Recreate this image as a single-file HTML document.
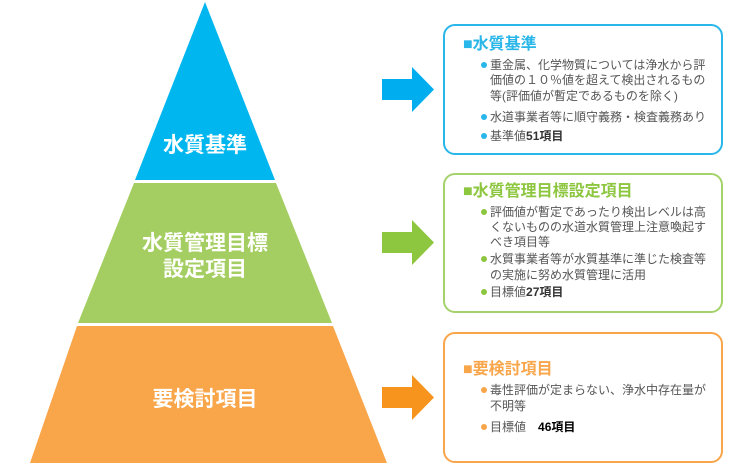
<!DOCTYPE html>
<html><head><meta charset="utf-8"><style>
body{margin:0;width:737px;height:471px;background:#fff;position:relative;overflow:hidden;font-family:"Liberation Sans","Noto Sans CJK JP",sans-serif}
.t{position:absolute;white-space:nowrap;line-height:1}
.b{position:absolute;border-radius:12px;background:#fff}
.h{font-size:16px;font-weight:bold}
.l{font-size:12px;color:#555}
.d{position:absolute;width:6px;height:6px;border-radius:50%}
</style></head><body>
<svg width="737" height="471" style="position:absolute;left:0;top:0">
<polygon points="205,2 275,180 135,180" fill="#00b6ee"/>
<polygon points="134,183 276,183 332,323 78,323" fill="#a5ce62"/>
<polygon points="77,326 333,326 387,463 30,463" fill="#f9a54a"/>
<polygon points="382,79 412,79 412,67 434,89.5 412,112 412,100 382,100" fill="#00aeef"/>
<polygon points="382,232 412,232 412,220 434,242.5 412,265 412,253 382,253" fill="#8dc63f"/>
<polygon points="382,387 412,387 412,375 434,397.5 412,420 412,408 382,408" fill="#f7941d"/>
<g fill="#fff" font-weight="bold" font-size="21" text-anchor="middle" font-family="Liberation Sans, Noto Sans CJK JP, sans-serif">
<text x="205" y="152">水質基準</text>
<text x="205" y="250">水質管理目標</text>
<text x="205" y="276">設定項目</text>
<text x="205" y="406">要検討項目</text>
</g>
</svg>
<div class="b" style="left:443px;top:24px;width:276px;height:127px;border:2px solid #29b6e8"></div>
<div class="b" style="left:443px;top:173px;width:276px;height:136px;border:2px solid #a5d26a"></div>
<div class="b" style="left:443px;top:332px;width:276px;height:127px;border:2px solid #f9a54a"></div>

<div class="t h" style="left:463px;top:37px;color:#29b6e8">■水質基準</div>
<div class="d" style="left:481px;top:62px;background:#29b6e8"></div>
<div class="t l" style="left:490px;top:59px">重金属、化学物質については浄水から評</div>
<div class="t l" style="left:490px;top:74px">価値の１０％値を超えて検出されるもの</div>
<div class="t l" style="left:490px;top:90px">等(評価値が暫定であるものを除く)</div>
<div class="d" style="left:481px;top:114px;background:#29b6e8"></div>
<div class="t l" style="left:490px;top:111px">水道事業者等に順守義務・検査義務あり</div>
<div class="d" style="left:481px;top:133px;background:#29b6e8"></div>
<div class="t l" style="left:490px;top:130px">基準値<b style="color:#333">51項目</b></div>

<div class="t h" style="left:463px;top:184px;color:#8dc63f">■水質管理目標設定項目</div>
<div class="d" style="left:481px;top:209px;background:#8dc63f"></div>
<div class="t l" style="left:490px;top:206px">評価値が暫定であったり検出レベルは高</div>
<div class="t l" style="left:490px;top:221px">くないものの水道水質管理上注意喚起す</div>
<div class="t l" style="left:490px;top:236px">べき項目等</div>
<div class="d" style="left:481px;top:256px;background:#8dc63f"></div>
<div class="t l" style="left:490px;top:253px">水質事業者等が水質基準に準じた検査等</div>
<div class="t l" style="left:490px;top:269px">の実施に努め水質管理に活用</div>
<div class="d" style="left:481px;top:289px;background:#8dc63f"></div>
<div class="t l" style="left:490px;top:286px">目標値<b style="color:#333">27項目</b></div>

<div class="t h" style="left:463px;top:362px;color:#f9a54a">■要検討項目</div>
<div class="d" style="left:481px;top:387px;background:#f9a54a"></div>
<div class="t l" style="left:490px;top:384px">毒性評価が定まらない、浄水中存在量が</div>
<div class="t l" style="left:490px;top:400px">不明等</div>
<div class="d" style="left:481px;top:424px;background:#f9a54a"></div>
<div class="t l" style="left:490px;top:421px">目標値　<b style="color:#000">46項目</b></div>
</body></html>
